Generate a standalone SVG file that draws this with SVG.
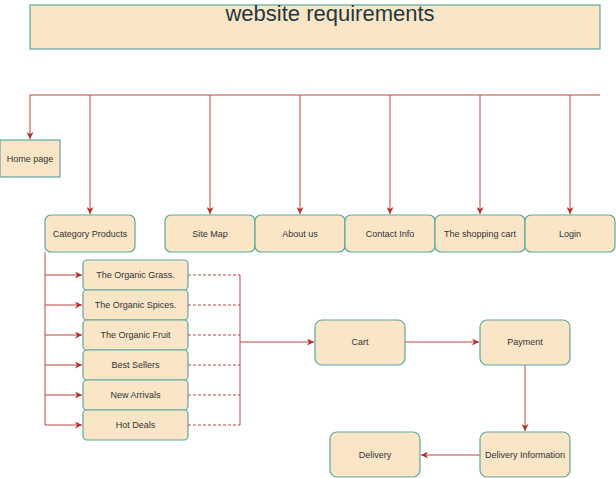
<svg xmlns="http://www.w3.org/2000/svg" width="616" height="478" viewBox="0 0 616 478">
  <style>
    .node { fill: #fae5c7; stroke: #5ba9a0; stroke-width: 1.2; }
    .lbl { font-family: "Liberation Sans", Arial, sans-serif; font-size: 9px; fill: #333333; text-anchor: middle; dominant-baseline: central; }
    .title { font-family: "Liberation Sans", Arial, sans-serif; font-size: 22px; fill: #23393f; text-anchor: middle; }
    .wire { fill: none; stroke: #c0443f; stroke-width: 1; }
    .dash { fill: none; stroke: #c0443f; stroke-width: 1; stroke-dasharray: 3 2; }
  </style>
  <defs>
    <marker id="arrow" viewBox="0 0 10 10" refX="10" refY="5" markerWidth="7" markerHeight="7" orient="auto" markerUnits="userSpaceOnUse">
      <path d="M0,0 L10,5 L0,10 L3,5 Z" fill="#b8302b"/>
    </marker>
  </defs>

  <!-- heading -->
  <g id="title">
    <rect class="node" x="30" y="5" width="570" height="44"/>
    <text class="title" x="330" y="21">website requirements</text>
  </g>

  <!-- connectors -->
  <g id="connectors">
    <path class="wire" d="M30,95 H600"/>
    <path class="wire" d="M30,95 V139" marker-end="url(#arrow)"/>
    <path class="wire" d="M90,95 V214" marker-end="url(#arrow)"/>
    <path class="wire" d="M210,95 V214" marker-end="url(#arrow)"/>
    <path class="wire" d="M300,95 V214" marker-end="url(#arrow)"/>
    <path class="wire" d="M390,95 V214" marker-end="url(#arrow)"/>
    <path class="wire" d="M480,95 V214" marker-end="url(#arrow)"/>
    <path class="wire" d="M570,95 V214" marker-end="url(#arrow)"/>

    <path class="wire" d="M45,252 V425"/>
    <path class="wire" d="M45,275 H82" marker-end="url(#arrow)"/>
    <path class="wire" d="M45,305 H82" marker-end="url(#arrow)"/>
    <path class="wire" d="M45,335 H82" marker-end="url(#arrow)"/>
    <path class="wire" d="M45,365 H82" marker-end="url(#arrow)"/>
    <path class="wire" d="M45,395 H82" marker-end="url(#arrow)"/>
    <path class="wire" d="M45,425 H82" marker-end="url(#arrow)"/>

    <path class="dash" d="M188,275 H240"/>
    <path class="dash" d="M188,305 H240"/>
    <path class="dash" d="M188,335 H240"/>
    <path class="dash" d="M188,365 H240"/>
    <path class="dash" d="M188,395 H240"/>
    <path class="dash" d="M188,425 H240"/>
    <path class="wire" d="M240,275 V425"/>
    <path class="wire" d="M240,342 H314" marker-end="url(#arrow)"/>

    <path class="wire" d="M405,342 H479" marker-end="url(#arrow)"/>
    <path class="wire" d="M525,365 V431" marker-end="url(#arrow)"/>
    <path class="wire" d="M480,455 H421" marker-end="url(#arrow)"/>
  </g>

  <g id="home-page">
    <rect class="node" x="0" y="140" width="60" height="37"/>
    <text class="lbl" x="30" y="158.5">Home page</text>
  </g>
  <g id="category-products">
    <rect class="node" x="45" y="215" width="90" height="37" rx="6"/>
    <text class="lbl" x="90" y="233.5">Category Products</text>
  </g>
  <g id="site-map">
    <rect class="node" x="165" y="215" width="90" height="37" rx="6"/>
    <text class="lbl" x="210" y="233.5">Site Map</text>
  </g>
  <g id="about-us">
    <rect class="node" x="255" y="215" width="90" height="37" rx="6"/>
    <text class="lbl" x="300" y="233.5">About us</text>
  </g>
  <g id="contact-info">
    <rect class="node" x="345" y="215" width="90" height="37" rx="6"/>
    <text class="lbl" x="390" y="233.5">Contact Info</text>
  </g>
  <g id="shopping-cart">
    <rect class="node" x="435" y="215" width="90" height="37" rx="6"/>
    <text class="lbl" x="480" y="233.5">The shopping cart</text>
  </g>
  <g id="login">
    <rect class="node" x="525" y="215" width="90" height="37" rx="6"/>
    <text class="lbl" x="570" y="233.5">Login</text>
  </g>

  <g id="organic-grass">
    <rect class="node" x="83" y="260" width="105" height="30" rx="4"/>
    <text class="lbl" x="135.5" y="275">The Organic Grass.</text>
  </g>
  <g id="organic-spices">
    <rect class="node" x="83" y="290" width="105" height="30" rx="4"/>
    <text class="lbl" x="135.5" y="305">The Organic Spices.</text>
  </g>
  <g id="organic-fruit">
    <rect class="node" x="83" y="320" width="105" height="30" rx="4"/>
    <text class="lbl" x="135.5" y="335">The Organic Fruit</text>
  </g>
  <g id="best-sellers">
    <rect class="node" x="83" y="350" width="105" height="30" rx="4"/>
    <text class="lbl" x="135.5" y="365">Best Sellers</text>
  </g>
  <g id="new-arrivals">
    <rect class="node" x="83" y="380" width="105" height="30" rx="4"/>
    <text class="lbl" x="135.5" y="395">New Arrivals</text>
  </g>
  <g id="hot-deals">
    <rect class="node" x="83" y="410" width="105" height="30" rx="4"/>
    <text class="lbl" x="135.5" y="425">Hot Deals</text>
  </g>

  <g id="cart">
    <rect class="node" x="315" y="320" width="90" height="45" rx="7"/>
    <text class="lbl" x="360" y="342">Cart</text>
  </g>
  <g id="payment">
    <rect class="node" x="480" y="320" width="90" height="45" rx="7"/>
    <text class="lbl" x="525" y="342">Payment</text>
  </g>
  <g id="delivery-information">
    <rect class="node" x="480" y="432" width="90" height="45" rx="7"/>
    <text class="lbl" x="525" y="455">Delivery Information</text>
  </g>
  <g id="delivery">
    <rect class="node" x="330" y="432" width="90" height="45" rx="7"/>
    <text class="lbl" x="375" y="455">Delivery</text>
  </g>
</svg>
